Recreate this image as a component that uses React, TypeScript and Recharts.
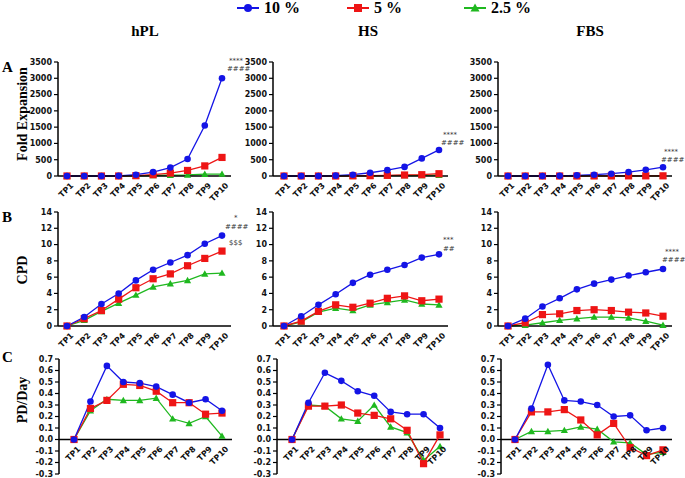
import { Line, LineChart, ReferenceLine, XAxis, YAxis } from "recharts";

const timepoints = ["TP1", "TP2", "TP3", "TP4", "TP5", "TP6", "TP7", "TP8", "TP9", "TP10"];

// Fold expansion
const foldHpl10 = [0, 0, 0, 5, 40, 120, 260, 520, 1550, 3000];
const foldHpl5 = [0, 0, 0, 0, 10, 40, 90, 170, 310, 570];
const foldHpl25 = [0, 0, 0, 0, 5, 15, 25, 30, 55, 60];
const foldHs10 = [0, 0, 0, 10, 40, 100, 180, 280, 540, 800];
const foldHs5 = [0, 0, 0, 0, 5, 10, 20, 30, 40, 70];
const foldHs25 = [0, 0, 0, 0, 2, 5, 10, 15, 20, 25];
const foldFbs10 = [0, 0, 0, 5, 20, 40, 70, 120, 190, 270];
const foldFbs5 = [0, 0, 0, 0, 0, 2, 3, 4, 5, 5];
const foldFbs25 = [0, 0, 0, 0, 0, 1, 1, 1, 1, 1];

// CPD
const cpdHpl10 = [0, 1.1, 2.7, 4.0, 5.6, 6.9, 7.8, 8.7, 10.1, 11.1];
const cpdHpl5 = [0, 0.9, 1.9, 3.3, 4.7, 5.8, 6.4, 7.4, 8.3, 9.2];
const cpdHpl25 = [0, 0.7, 1.8, 2.8, 3.8, 4.8, 5.2, 5.6, 6.4, 6.5];
const cpdHs10 = [0, 1.2, 2.6, 3.9, 5.3, 6.3, 6.9, 7.5, 8.4, 8.8];
const cpdHs5 = [0, 0.6, 1.8, 2.6, 2.3, 2.8, 3.4, 3.7, 3.1, 3.3];
const cpdHs25 = [0, 0.5, 1.7, 2.2, 1.9, 2.6, 2.9, 3.2, 2.7, 2.6];
const cpdFbs10 = [0, 0.9, 2.4, 3.4, 4.5, 5.2, 5.7, 6.2, 6.6, 7.0];
const cpdFbs5 = [0, 0.4, 1.4, 1.5, 1.9, 2.0, 1.9, 1.7, 1.6, 1.2];
const cpdFbs25 = [0, 0.1, 0.4, 0.7, 0.9, 1.1, 1.1, 1.0, 0.6, 0.1];

// PD/Day
const pdHpl10 = [0, 0.33, 0.64, 0.5, 0.49, 0.46, 0.39, 0.32, 0.35, 0.25];
const pdHpl5 = [0, 0.27, 0.34, 0.48, 0.47, 0.42, 0.32, 0.32, 0.22, 0.23];
const pdHpl25 = [0, 0.25, 0.35, 0.34, 0.34, 0.36, 0.18, 0.14, 0.2, 0.03];
const pdHs10 = [0, 0.32, 0.58, 0.51, 0.42, 0.38, 0.24, 0.22, 0.22, 0.1];
const pdHs5 = [0, 0.29, 0.29, 0.3, 0.23, 0.21, 0.18, 0.08, -0.21, 0.04];
const pdHs25 = [0, 0.3, 0.29, 0.18, 0.16, 0.3, 0.11, 0.06, -0.18, -0.06];
const pdFbs10 = [0, 0.27, 0.65, 0.34, 0.33, 0.3, 0.2, 0.21, 0.08, 0.1];
const pdFbs5 = [0, 0.24, 0.24, 0.26, 0.17, 0.04, 0.14, -0.07, -0.14, -0.09];
const pdFbs25 = [0, 0.07, 0.07, 0.08, 0.11, 0.09, -0.02, -0.03, -0.13, -0.11];

const foldTicks = [0, 500, 1000, 1500, 2000, 2500, 3000, 3500];
const cpdTicks = [0, 2, 4, 6, 8, 10, 12, 14];
const pdTicks = [-0.3, -0.2, -0.1, 0, 0.1, 0.2, 0.3, 0.4, 0.5, 0.6, 0.7];

const BLUE = "#1414e6";
const RED = "#ee1515";
const GREEN = "#1fb81f";
const SERIF = "'Liberation Serif', 'Times New Roman', serif";
const SANS = "'DejaVu Sans', Verdana, sans-serif";

const YW = 40;
const MT = 6;
const MR = 4;
const XH = 40;

const circleDot = (p: any) => (
  <circle key={`c${p.index}`} cx={p.cx} cy={p.cy} r={3.3} fill={BLUE} stroke="none" />
);
const squareDot = (p: any) => (
  <rect key={`s${p.index}`} x={p.cx - 3.6} y={p.cy - 3.6} width={7.2} height={7.2} fill={RED} stroke="none" />
);
const triDot = (p: any) => (
  <polygon
    key={`t${p.index}`}
    points={`${p.cx},${p.cy - 3.6} ${p.cx + 3.6},${p.cy + 2.8} ${p.cx - 3.6},${p.cy + 2.8}`}
    fill={GREEN}
    stroke="none"
  />
);

type PanelProps = {
  x: number;
  y: number;
  w: number;
  h: number;
  padL: number;
  padR: number;
  ticks: number[];
  fmt: (v: number) => string;
  s10: number[];
  s5: number[];
  s25: number[];
  zeroAxis?: boolean;
};

function Panel({ x, y, w, h, padL, padR, ticks, fmt, s10, s5, s25, zeroAxis }: PanelProps) {
  const data = timepoints.map((tp, i) => ({ tp, a: s10[i], b: s5[i], c: s25[i] }));
  const lo = ticks[0];
  const hi = ticks[ticks.length - 1];
  const shift = zeroAxis ? (h * (0 - lo)) / (hi - lo) : 0;

  const XTick = (p: any) => (
    <g transform={`translate(${p.x + 7},${p.y + 6 - shift})`}>
      <text
        x={0}
        y={0}
        textAnchor="end"
        transform="rotate(-45)"
        fontSize={8}
        fontWeight="bold"
        fontFamily={SANS}
        fill="#111"
      >
        {p.payload.value}
      </text>
    </g>
  );

  return (
    <div style={{ position: "absolute", left: x - YW, top: y - MT }}>
      <LineChart
        width={YW + w + MR}
        height={MT + h + XH}
        data={data}
        margin={{ top: MT, right: MR, bottom: 0, left: 0 }}
        style={{ overflow: "visible" }}
      >
        <XAxis
          dataKey="tp"
          height={XH}
          padding={{ left: padL, right: padR }}
          interval={0}
          tickSize={4}
          tickMargin={0}
          tickLine={false}
          axisLine={zeroAxis ? false : { stroke: "#000", strokeWidth: 1.5 }}
          tick={<XTick />}
        />
        <YAxis
          width={YW}
          domain={[lo, hi]}
          ticks={ticks}
          interval={0}
          tickSize={4}
          tickMargin={2}
          tickFormatter={fmt}
          axisLine={{ stroke: "#000", strokeWidth: 1.5 }}
          tickLine={{ stroke: "#000", strokeWidth: 1.2 }}
          tick={{ fontSize: 8, fontWeight: "bold", fontFamily: SANS, fill: "#111" }}
        />
        {zeroAxis && <ReferenceLine y={0} stroke="#000" strokeWidth={1.5} />}
        <Line dataKey="c" stroke={GREEN} strokeWidth={1.3} dot={triDot} activeDot={false} isAnimationActive={false} />
        <Line dataKey="b" stroke={RED} strokeWidth={1.3} dot={squareDot} activeDot={false} isAnimationActive={false} />
        <Line dataKey="a" stroke={BLUE} strokeWidth={1.3} dot={circleDot} activeDot={false} isAnimationActive={false} />
      </LineChart>
    </div>
  );
}

const intFmt = (v: number) => `${v}`;
const pdFmt = (v: number) => v.toFixed(1);

function Txt({ left, top, size, children, bold = true, family = SERIF, color = "#000" }: any) {
  return (
    <div
      style={{
        position: "absolute",
        left,
        top,
        fontSize: size,
        fontWeight: bold ? "bold" : "normal",
        fontFamily: family,
        color,
        whiteSpace: "pre",
        lineHeight: 1,
      }}
    >
      {children}
    </div>
  );
}

function VLabel({ cx, cy, children }: any) {
  return (
    <div
      style={{
        position: "absolute",
        left: cx,
        top: cy,
        transform: "translate(-50%, -50%) rotate(-90deg)",
        fontSize: 14,
        fontWeight: "bold",
        fontFamily: SERIF,
        whiteSpace: "nowrap",
        lineHeight: 1,
      }}
    >
      {children}
    </div>
  );
}

function Title({ cx, top, children }: any) {
  return (
    <div
      style={{
        position: "absolute",
        left: cx,
        top,
        transform: "translateX(-50%)",
        fontSize: 15,
        fontWeight: "bold",
        fontFamily: SERIF,
        lineHeight: 1,
      }}
    >
      {children}
    </div>
  );
}

function LegendItem({ left, color, shape, label }: any) {
  return (
    <div style={{ position: "absolute", left, top: 0, display: "flex", alignItems: "center", height: 16 }}>
      <svg width={22} height={12}>
        <line x1={0} y1={6} x2={22} y2={6} stroke={color} strokeWidth={2} />
        {shape === "circle" && <circle cx={11} cy={6} r={4} fill={color} />}
        {shape === "square" && <rect x={7} y={2} width={8} height={8} fill={color} />}
        {shape === "tri" && <polygon points="11,1.5 15.5,9.5 6.5,9.5" fill={color} />}
      </svg>
      <span style={{ marginLeft: 5, fontSize: 16, fontWeight: "bold", fontFamily: SERIF }}>{label}</span>
    </div>
  );
}

const ann = (left: number, top: number, text: string) => (
  <Txt left={left} top={top} size={7} bold={false} family={SANS} color="#333">
    {text}
  </Txt>
);

export default function App() {
  return (
    <div style={{ position: "absolute", left: 0, top: 0, width: 685, height: 478, background: "#fff", overflow: "hidden" }}>
      <LegendItem left={237} color={BLUE} shape="circle" label="10 %" />
      <LegendItem left={347} color={RED} shape="square" label="5 %" />
      <LegendItem left={464} color={GREEN} shape="tri" label="2.5 %" />

      <Title cx={145} top={24}>hPL</Title>
      <Title cx={368} top={24}>HS</Title>
      <Title cx={590} top={24}>FBS</Title>

      <Txt left={2} top={60} size={15}>A</Txt>
      <Txt left={2} top={210} size={15}>B</Txt>
      <Txt left={2} top={350} size={15}>C</Txt>

      <VLabel cx={23} cy={114}>Fold Expansion</VLabel>
      <VLabel cx={23} cy={270}>CPD</VLabel>
      <VLabel cx={23} cy={400}>PD/Day</VLabel>

      <Panel x={58} y={62} w={173} h={114} padL={9} padR={9} ticks={foldTicks} fmt={intFmt} s10={foldHpl10} s5={foldHpl5} s25={foldHpl25} />
      <Panel x={273} y={62} w={175} h={114} padL={11} padR={9} ticks={foldTicks} fmt={intFmt} s10={foldHs10} s5={foldHs5} s25={foldHs25} />
      <Panel x={498} y={62} w={174} h={114} padL={10} padR={9} ticks={foldTicks} fmt={intFmt} s10={foldFbs10} s5={foldFbs5} s25={foldFbs25} />

      <Panel x={58} y={212} w={173} h={114} padL={9} padR={9} ticks={cpdTicks} fmt={intFmt} s10={cpdHpl10} s5={cpdHpl5} s25={cpdHpl25} />
      <Panel x={273} y={212} w={175} h={114} padL={11} padR={9} ticks={cpdTicks} fmt={intFmt} s10={cpdHs10} s5={cpdHs5} s25={cpdHs25} />
      <Panel x={498} y={212} w={174} h={114} padL={10} padR={9} ticks={cpdTicks} fmt={intFmt} s10={cpdFbs10} s5={cpdFbs5} s25={cpdFbs25} />

      <Panel x={59} y={359} w={173} h={115} padL={15} padR={10} ticks={pdTicks} fmt={pdFmt} s10={pdHpl10} s5={pdHpl5} s25={pdHpl25} zeroAxis />
      <Panel x={277} y={359} w={173} h={115} padL={15} padR={10} ticks={pdTicks} fmt={pdFmt} s10={pdHs10} s5={pdHs5} s25={pdHs25} zeroAxis />
      <Panel x={501} y={359} w={171} h={115} padL={14} padR={9} ticks={pdTicks} fmt={pdFmt} s10={pdFbs10} s5={pdFbs5} s25={pdFbs25} zeroAxis />

      {ann(229, 58, "****")}
      {ann(227, 66, "####")}
      {ann(443, 132, "****")}
      {ann(441, 140, "####")}
      {ann(664, 149, "****")}
      {ann(661, 157, "####")}
      {ann(234, 215, "*")}
      {ann(225, 224, "####")}
      {ann(229, 240, "$$$")}
      {ann(443, 237, "***")}
      {ann(443, 246, "##")}
      {ann(665, 249, "****")}
      {ann(662, 257, "####")}
    </div>
  );
}
